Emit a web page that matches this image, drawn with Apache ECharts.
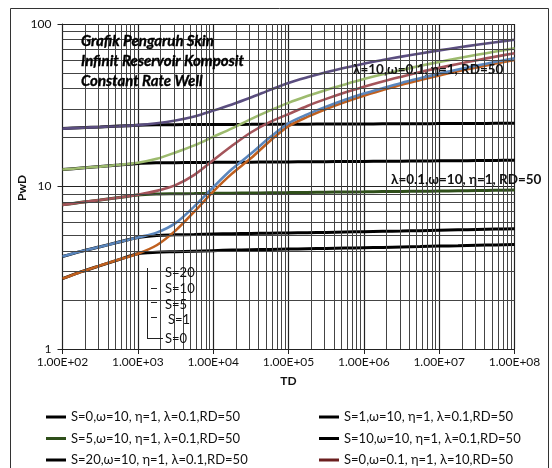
<!DOCTYPE html>
<html><head><meta charset="utf-8">
<script src="https://cdn.jsdelivr.net/npm/echarts@6/dist/echarts.min.js"></script>
<style>html,body{margin:0;padding:0;background:#fff}#c{width:552px;height:468px}</style>
</head><body><div id="c"></div>
<script>
// Dimensionless time samples (TD), quarter-decade steps
const td = [100, 177.8, 316.2, 562.3, 1000, 1778, 3162, 5623, 1e4, 17780, 31620, 56230, 1e5,
            177800, 316200, 562300, 1e6, 1778000, 3162000, 5623000, 1e7, 17780000, 31620000, 56230000, 1e8];

// PwD, lambda = 0.1, omega = 10 (curves flatten after the inner region)
const pwdS0Lam01  = [2.71, 2.99, 3.26, 3.55, 3.86, 3.94, 3.97, 4.00, 4.03, 4.06, 4.08, 4.10, 4.12, 4.14, 4.16, 4.18, 4.20, 4.22, 4.25, 4.27, 4.30, 4.32, 4.35, 4.37, 4.40];
const pwdS1Lam01  = [3.71, 3.99, 4.26, 4.55, 4.86, 5.00, 5.04, 5.07, 5.10, 5.12, 5.14, 5.16, 5.18, 5.20, 5.22, 5.25, 5.27, 5.30, 5.32, 5.35, 5.38, 5.41, 5.44, 5.47, 5.50];
const pwdS5Lam01  = [7.71, 7.99, 8.26, 8.55, 8.86, 8.98, 9.02, 9.05, 9.08, 9.10, 9.12, 9.15, 9.17, 9.20, 9.22, 9.25, 9.27, 9.30, 9.32, 9.35, 9.38, 9.41, 9.44, 9.47, 9.50];
const pwdS10Lam01 = [12.71, 12.99, 13.26, 13.55, 13.86, 13.98, 14.02, 14.05, 14.08, 14.10, 14.12, 14.15, 14.17, 14.20, 14.22, 14.25, 14.27, 14.30, 14.32, 14.35, 14.38, 14.41, 14.44, 14.47, 14.50];
const pwdS20Lam01 = [22.71, 22.99, 23.26, 23.55, 23.86, 23.98, 24.02, 24.05, 24.08, 24.10, 24.12, 24.15, 24.17, 24.20, 24.22, 24.25, 24.27, 24.30, 24.32, 24.35, 24.38, 24.41, 24.44, 24.47, 24.50];

// PwD, lambda = 10, omega = 0.1 (curves steepen after the inner region)
const pwdS0Lam10  = [2.71, 2.99, 3.26, 3.55, 3.86, 4.35, 5.35, 7.00, 9.30, 12.0, 14.9, 19.0, 23.5, 26.8, 30.0, 33.1, 36.2, 39.2, 42.3, 45.2, 48.2, 51.2, 54.1, 57.1, 60.0];
const pwdS1Lam10  = [3.71, 3.99, 4.26, 4.55, 4.86, 5.20, 5.95, 7.55, 9.90, 12.8, 15.9, 20.0, 24.5, 27.8, 31.0, 34.2, 37.3, 40.3, 43.4, 46.4, 49.5, 52.5, 55.5, 58.5, 61.5];
const pwdS5Lam10  = [7.71, 7.99, 8.26, 8.55, 8.90, 9.40, 10.2, 11.8, 14.5, 17.8, 21.5, 24.9, 27.9, 31.3, 34.6, 37.9, 41.1, 44.3, 47.4, 50.6, 53.7, 56.8, 59.9, 63.0, 66.1];
const pwdS10Lam10 = [12.71, 12.99, 13.26, 13.60, 14.0, 14.8, 16.2, 17.9, 20.2, 22.8, 26.0, 29.3, 32.7, 36.0, 39.3, 42.5, 45.8, 49.0, 52.1, 55.3, 58.4, 61.5, 64.6, 67.7, 70.8];
const pwdS20Lam10 = [22.71, 22.98, 23.26, 23.50, 23.85, 24.5, 25.5, 27.0, 29.3, 32.0, 35.3, 39.2, 43.4, 47.0, 50.5, 53.8, 57.0, 60.0, 63.0, 65.9, 68.8, 71.7, 74.5, 77.3, 80.0];

const xTickLabels = ['1.00E+02', '1.00E+03', '1.00E+04', '1.00E+05', '1.00E+06', '1.00E+07', '1.00E+08'];
const yTickLabels = ['1', '10', '100'];

const FONT = 'Lato, "Liberation Sans", sans-serif';

const pair = arr => td.map((t, i) => [t, arr[i]]);

// minor grid of the log-log paper: 2..9 within every decade
const minorLines = [];
for (let d = 2; d < 8; d++) for (let m = 2; m <= 9; m++) minorLines.push({ xAxis: m * Math.pow(10, d) });
for (let d = 0; d < 2; d++) for (let m = 2; m <= 9; m++) minorLines.push({ yAxis: m * Math.pow(10, d) });

function curve(name, data, color, width, z) {
  return {
    name, type: 'line', data: pair(data), showSymbol: false, symbol: 'none',
    smooth: 0.3, z,
    lineStyle: { color, width }, itemStyle: { color }
  };
}

const nm = {
  a0: 'S=0,ω=10, η=1, λ=0.1,RD=50',
  a1: 'S=1,ω=10, η=1, λ=0.1,RD=50',
  a5: 'S=5,ω=10, η=1, λ=0.1,RD=50',
  a10: 'S=10,ω=10, η=1, λ=0.1,RD=50',
  a20: 'S=20,ω=10, η=1, λ=0.1,RD=50',
  b0: 'S=0,ω=0.1, η=1, λ=10,RD=50',
  b1: 'S=1,ω=0.1, η=1, λ=10,RD=50',
  b5: 'S=5,ω=0.1, η=1, λ=10,RD=50',
  b10: 'S=10,ω=0.1, η=1, λ=10,RD=50',
  b20: 'S=20,ω=0.1, η=1, λ=10,RD=50'
};

const legendText = { fontFamily: FONT, fontSize: 13, color: '#111', lineHeight: 14 };
const legendCommon = {
  top: 410, orient: 'vertical', padding: 0, itemGap: 7.5, itemWidth: 20, itemHeight: 3,
  icon: 'rect', selectedMode: false, textStyle: legendText
};

const titleStyle = t => ({ text: t, font: 'italic bold 15px ' + FONT, fill: '#000', stroke: '#000', lineWidth: 0.35 });

const chart = echarts.init(document.getElementById('c'), null, { renderer: 'canvas' });
chart.setOption({
  animation: false,
  backgroundColor: '#fff',
  grid: { left: 62.5, right: 37.5, top: 24, bottom: 119 },
  xAxis: {
    type: 'log', logBase: 10, min: 1e2, max: 1e8, splitNumber: 10,
    name: 'TD', nameLocation: 'middle', nameGap: 26,
    nameTextStyle: { fontFamily: FONT, fontSize: 12, fontWeight: 'bold', color: '#111' },
    axisLine: { show: true, lineStyle: { color: '#222', width: 1 } },
    axisTick: { show: true, length: 5, lineStyle: { color: '#222' } },
    axisLabel: {
      margin: 7, fontFamily: FONT, fontSize: 12, color: '#111',
      formatter: v => xTickLabels[Math.round(Math.log10(v)) - 2] || ''
    },
    splitLine: { show: true, lineStyle: { color: '#222', width: 1.2 } }
  },
  yAxis: {
    type: 'log', logBase: 10, min: 1, max: 100, splitNumber: 10,
    axisLine: { show: true, lineStyle: { color: '#222', width: 1 } },
    axisTick: { show: true, length: 5, lineStyle: { color: '#222' } },
    axisLabel: {
      margin: 11, fontFamily: FONT, fontSize: 12, color: '#111',
      formatter: v => yTickLabels[Math.round(Math.log10(v))] || ''
    },
    splitLine: { show: true, lineStyle: { color: '#222', width: 1.2 } }
  },
  legend: [
    Object.assign({ left: 46, data: [nm.a0, nm.a5, nm.a20] }, legendCommon),
    Object.assign({ left: 319, data: [nm.a1, nm.a10, { name: nm.b0, itemStyle: { color: '#6b1f1f' } }] }, legendCommon)
  ],
  series: [
    {
      name: 'grid-minor', type: 'line', data: [], z: 1, silent: true,
      markLine: {
        silent: true, symbol: 'none', label: { show: false },
        lineStyle: { color: '#444', width: 1, type: 'solid' },
        emphasis: { disabled: true },
        data: minorLines
      }
    },
    curve(nm.a0, pwdS0Lam01, '#000000', 3, 3),
    curve(nm.a1, pwdS1Lam01, '#000000', 3, 3),
    curve(nm.a5, pwdS5Lam01, '#2f4f1a', 3, 3),
    curve(nm.a10, pwdS10Lam01, '#000000', 3, 3),
    curve(nm.a20, pwdS20Lam01, '#000000', 3, 3),
    curve(nm.b0, pwdS0Lam10, '#c0601f', 2.6, 4),
    curve(nm.b1, pwdS1Lam10, '#5a86bd', 2.6, 4),
    curve(nm.b5, pwdS5Lam10, '#a4545a', 2.6, 4),
    curve(nm.b10, pwdS10Lam10, '#9dbb6e', 2.6, 4),
    curve(nm.b20, pwdS20Lam10, '#5b4e80', 2.6, 4)
  ],
  graphic: [
    { type: 'rect', shape: { x: 10.5, y: 8.5, width: 538, height: 470 }, style: { fill: null, stroke: '#333', lineWidth: 1 }, silent: true, z: 0 },
    { type: 'text', x: 22, y: 188, rotation: Math.PI / 2, z: 10, style: { text: 'PwD', font: 'bold 12px ' + FONT, fill: '#111', align: 'center', verticalAlign: 'middle' } },
    { type: 'text', x: 81, y: 34, z: 10, style: titleStyle('Grafik Pengaruh Skin') },
    { type: 'text', x: 81, y: 54, z: 10, style: titleStyle('Infinit Reservoir Komposit') },
    { type: 'text', x: 81, y: 74, z: 10, style: titleStyle('Constant Rate Well') },
    { type: 'text', x: 353, y: 63, z: 10, style: { text: 'λ=10,ω=0.1, η=1, RD=50', font: 'bold 13.5px ' + FONT, fill: '#111' } },
    { type: 'text', x: 391, y: 172.5, z: 10, style: { text: 'λ=0.1,ω=10, η=1, RD=50', font: 'bold 13.5px ' + FONT, fill: '#111' } },
    { type: 'text', x: 165, y: 266, z: 10, style: { text: 'S=20', font: '13px ' + FONT, fill: '#111' } },
    { type: 'text', x: 165, y: 282, z: 10, style: { text: 'S=10', font: '13px ' + FONT, fill: '#111' } },
    { type: 'text', x: 165, y: 298, z: 10, style: { text: 'S=5', font: '13px ' + FONT, fill: '#111' } },
    { type: 'text', x: 168, y: 313, z: 10, style: { text: 'S=1', font: '13px ' + FONT, fill: '#111' } },
    { type: 'text', x: 165, y: 332, z: 10, style: { text: 'S=0', font: '13px ' + FONT, fill: '#111' } },
    { type: 'line', shape: { x1: 147.5, y1: 268, x2: 147.5, y2: 339 }, style: { stroke: '#222', lineWidth: 1 }, z: 10 },
    { type: 'line', shape: { x1: 151, y1: 288.5, x2: 157, y2: 288.5 }, style: { stroke: '#222', lineWidth: 1 }, z: 10 },
    { type: 'line', shape: { x1: 151, y1: 302.5, x2: 157, y2: 302.5 }, style: { stroke: '#222', lineWidth: 1 }, z: 10 },
    { type: 'line', shape: { x1: 151, y1: 317.5, x2: 157, y2: 317.5 }, style: { stroke: '#222', lineWidth: 1 }, z: 10 },
    { type: 'line', shape: { x1: 147.5, y1: 338.5, x2: 163, y2: 338.5 }, style: { stroke: '#222', lineWidth: 1 }, z: 10 }
  ]
});
</script></body></html>
